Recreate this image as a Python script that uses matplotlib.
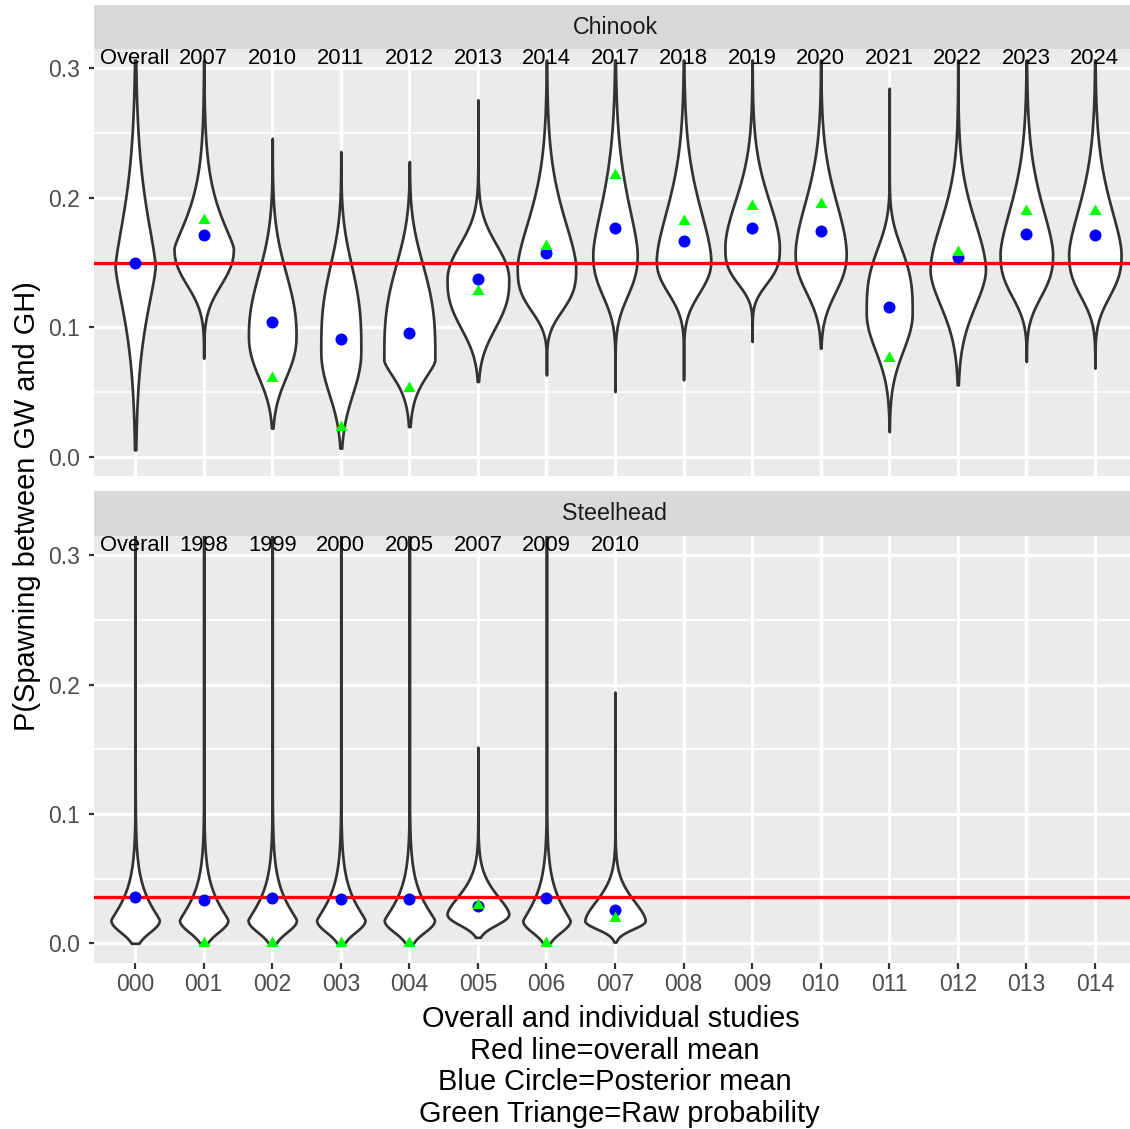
import numpy as np
import matplotlib
matplotlib.use("Agg")
import matplotlib.pyplot as plt

plt.rcParams['font.family'] = ['Liberation Sans', 'DejaVu Sans']

# ---------------- data ----------------
categories = ['000', '001', '002', '003', '004', '005', '006', '007',
              '008', '009', '010', '011', '012', '013', '014']
y_ticks = [0.0, 0.1, 0.2, 0.3]
y_tick_labels = ['0.0', '0.1', '0.2', '0.3']

chinook_labels = ['Overall', '2007', '2010', '2011', '2012', '2013', '2014', '2017',
                  '2018', '2019', '2020', '2021', '2022', '2023', '2024']
chinook_posterior = [0.1495, 0.1713, 0.1039, 0.0910, 0.0953, 0.1371, 0.1572, 0.1765,
                     0.1667, 0.1765, 0.1747, 0.1159, 0.1546, 0.1721, 0.1716]
chinook_raw = [np.nan, 0.1830, 0.0605, 0.0232, 0.0528, 0.1283, 0.1628, 0.2177,
               0.1824, 0.1940, 0.1953, 0.0760, 0.1584, 0.1900, 0.1900]
chinook_overall_mean = 0.1495
# violin outline description:
# widest point, half-width there (category units), where the width halves
# below / above, sharpness of each side, and the tail ends
chinook_v_mode = [0.147, 0.161, 0.094, 0.0825, 0.0747, 0.1366, 0.1468, 0.157,
                  0.152, 0.1623, 0.157, 0.1108, 0.1443, 0.157, 0.157]
chinook_v_width = [0.292, 0.433, 0.347, 0.292, 0.372, 0.450, 0.426, 0.324,
                   0.397, 0.397, 0.372, 0.335, 0.404, 0.383, 0.382]
chinook_v_half_lo = [0.102, 0.130, 0.058, 0.044, 0.057, 0.097, 0.112, 0.122,
                     0.124, 0.133, 0.124, 0.077, 0.110, 0.122, 0.122]
chinook_v_half_hi = [0.197, 0.191, 0.147, 0.150, 0.150, 0.168, 0.193, 0.205,
                     0.201, 0.206, 0.205, 0.162, 0.190, 0.202, 0.202]
chinook_v_sharp_lo = [1.4, 2.3, 2.3, 2.2, 1.5, 2.5, 3.0, 2.5, 2.3, 3.0, 2.3, 2.0,
                      1.8, 2.6, 2.6]
chinook_v_sharp_hi = [1.4, 1.3, 2.2, 2.8, 3.0, 2.1, 1.6, 1.55, 1.65, 1.8, 1.8, 3.0,
                      1.8, 1.6, 1.6]
chinook_v_min = [0.0052, 0.076, 0.022, 0.0065, 0.0232, 0.058, 0.0631, 0.0502,
                 0.0593, 0.0889, 0.0838, 0.0193, 0.0554, 0.0734, 0.0683]
chinook_v_max = [0.3065, 0.3065, 0.246, 0.2357, 0.228, 0.2757, 0.3065, 0.3065,
                 0.3065, 0.3065, 0.3065, 0.2847, 0.3065, 0.3065, 0.3065]

steelhead_labels = ['Overall', '1998', '1999', '2000', '2005', '2007', '2009', '2010']
steelhead_posterior = [0.0356, 0.0338, 0.0348, 0.0343, 0.0343, 0.0292, 0.0351, 0.0261]
steelhead_raw = [np.nan, 0.0, 0.0, 0.0, 0.0, 0.0295, 0.0, 0.0195]
steelhead_overall_mean = 0.0356
steelhead_v_mode = [0.018, 0.018, 0.018, 0.018, 0.018, 0.0228, 0.0176, 0.0176]
steelhead_v_width = [0.353, 0.353, 0.353, 0.353, 0.367, 0.450, 0.345, 0.440]
steelhead_v_half_lo = [0.007, 0.007, 0.007, 0.007, 0.007, 0.013, 0.007, 0.010]
steelhead_v_half_hi = [0.035, 0.035, 0.035, 0.035, 0.035, 0.041, 0.035, 0.037]
steelhead_v_sharp_lo = [2.0, 2.0, 2.0, 2.0, 2.0, 2.1, 2.0, 2.0]
steelhead_v_sharp_hi = [1.2, 1.2, 1.2, 1.2, 1.2, 1.58, 1.2, 1.68]
steelhead_v_min = [0.0, 0.0, 0.0, 0.0, 0.0, 0.0046, 0.0, 0.001]
steelhead_v_max = [0.33, 0.33, 0.33, 0.33, 0.33, 0.1517, 0.33, 0.1943]

x_title = ('Overall and individual studies \n Red line=overall mean \n'
           ' Blue Circle=Posterior mean \n Green Triange=Raw probability')
y_title = 'P(Spawning between GW and GH)'

# ---------------- style ----------------
W, H = 1130, 1129
DPI = 100
PT = 72.0 / DPI  # points per pixel

fig = plt.figure(figsize=(W / DPI, H / DPI), dpi=DPI)
fig.patch.set_facecolor('white')


def fx(px):
    return px / W


def fy(py):
    return 1 - py / H


panel_left, panel_right = 94, 1136


def profile(y, mode, w, lo, hi, plo, phi):
    h = np.where(y < mode, mode - lo, hi - mode)
    p = np.where(y < mode, plo, phi)
    return w * np.exp(-np.log(2) * np.abs((y - mode) / h) ** p)


def draw_panel(top_px, bot_px, strip_top_px, title, labels, post, raw, mean,
               vmode, vwidth, vlo, vhi, vplo, vphi, vmin, vmax, show_x):
    ax = fig.add_axes([fx(panel_left), fy(bot_px), fx(panel_right - panel_left),
                       (bot_px - top_px) / H])
    ax.set_facecolor('#EBEBEB')
    ax.set_xlim(-0.6, len(categories) - 1 + 0.6)
    ax.set_ylim(-0.015, 0.315)
    for sp in ax.spines.values():
        sp.set_visible(False)
    for yv in [0.05, 0.15, 0.25]:
        ax.axhline(yv, color='white', lw=1.6 * PT, zorder=0.5)
    for yv in y_ticks:
        ax.axhline(yv, color='white', lw=3.2 * PT, zorder=0.6)
    for i in range(len(categories)):
        ax.axvline(i, color='white', lw=3.2 * PT, zorder=0.6)
    for i in range(len(labels)):
        yy = np.linspace(vmin[i], vmax[i], 800)
        hw = profile(yy, vmode[i], vwidth[i], vlo[i], vhi[i], vplo[i], vphi[i])
        ax.fill_betweenx(yy, i - hw, i + hw, facecolor='white', edgecolor='#333333',
                         lw=2.7 * PT, zorder=2, joinstyle='round')
    ax.axhline(mean, color='#FF0000', lw=3.3 * PT, zorder=3)
    xs = np.arange(len(labels))
    ax.plot(xs, post, 'o', color='#0000FF', ms=12 * PT, mec='none', zorder=4)
    tri = [(0, 1), (-0.866, -0.5), (0.866, -0.5), (0, 1)]
    ax.plot(xs, raw, linestyle='none', marker=tri, color='#00FF00', ms=14 * PT,
            mec='none', zorder=5)
    for i, lab in enumerate(labels):
        ax.text(i, 0.3075, lab, ha='center', va='center', fontsize=22 * PT,
                color='black', zorder=6)
    ax.set_yticks(y_ticks)
    ax.set_yticklabels(y_tick_labels)
    ax.tick_params(axis='y', length=5.5 * PT, width=2.2 * PT, color='#333333',
                   labelsize=23 * PT, labelcolor='#4D4D4D', pad=8.5 * PT)
    ax.set_xticks(range(len(categories)))
    if show_x:
        ax.set_xticklabels(categories)
        ax.tick_params(axis='x', length=5.5 * PT, width=2.2 * PT, color='#333333',
                       labelsize=23 * PT, labelcolor='#4D4D4D', pad=5 * PT)
    else:
        ax.tick_params(axis='x', length=0, labelbottom=False)
    sax = fig.add_axes([fx(panel_left), fy(top_px), fx(panel_right - panel_left),
                        (top_px - strip_top_px) / H])
    sax.set_facecolor('#D9D9D9')
    sax.set_xticks([])
    sax.set_yticks([])
    for sp in sax.spines.values():
        sp.set_visible(False)
    sax.text(0.5, 0.5, title, ha='center', va='center', fontsize=23.2 * PT,
             color='#1A1A1A', transform=sax.transAxes)
    return ax


ax1 = draw_panel(49, 476, 5, 'Chinook', chinook_labels, chinook_posterior, chinook_raw,
                 chinook_overall_mean, chinook_v_mode, chinook_v_width, chinook_v_half_lo,
                 chinook_v_half_hi, chinook_v_sharp_lo, chinook_v_sharp_hi,
                 chinook_v_min, chinook_v_max, False)
ax2 = draw_panel(536, 962.7, 491, 'Steelhead', steelhead_labels, steelhead_posterior,
                 steelhead_raw, steelhead_overall_mean, steelhead_v_mode, steelhead_v_width,
                 steelhead_v_half_lo, steelhead_v_half_hi, steelhead_v_sharp_lo,
                 steelhead_v_sharp_hi, steelhead_v_min, steelhead_v_max, True)

fig.text(fx(35), fy(506), y_title, rotation=90, rotation_mode='anchor',
         ha='center', va='baseline', fontsize=29 * PT, color='black')
fig.text(fx(615), fy(1121.8), x_title, ha='center', va='baseline',
         multialignment='center', fontsize=29 * PT, color='black', linespacing=1.16)

fig.savefig('out.png', dpi=DPI, facecolor='white')
